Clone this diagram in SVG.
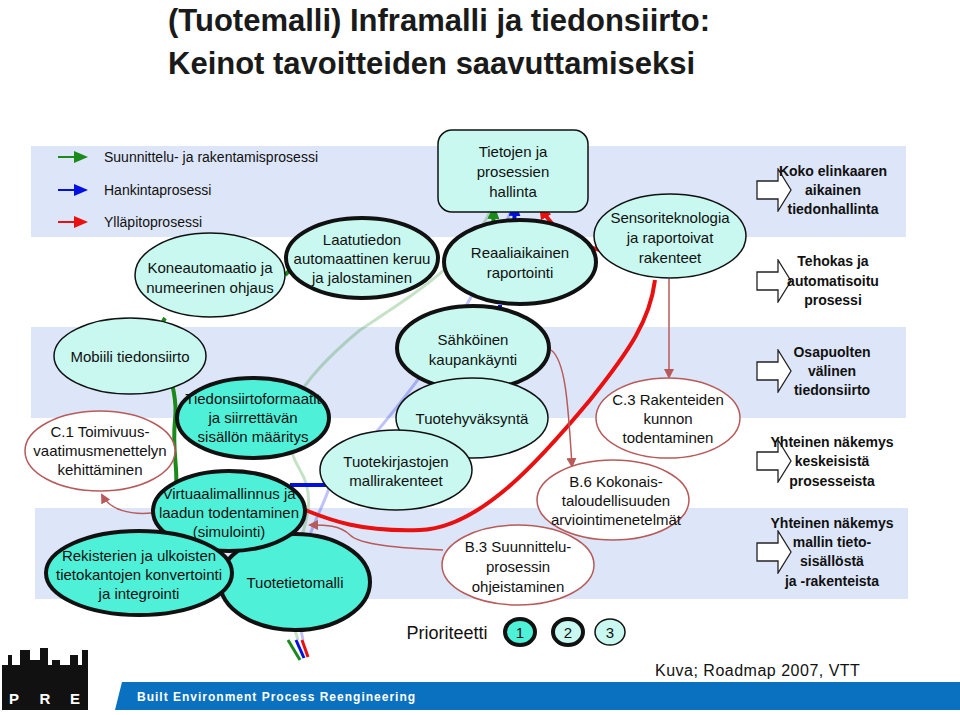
<svg xmlns="http://www.w3.org/2000/svg" width="960" height="715" viewBox="0 0 960 715">
<style>
text{font-family:"Liberation Sans",Arial,sans-serif;font-size:15px;text-anchor:middle;fill:#111}
.band{fill:#dde5f8}
.e3{fill:#c8f8ef;stroke:#111;stroke-width:1.5}
.e2{fill:#c8f8ef;stroke:#111;stroke-width:4}
.e1{fill:#4ff0d8;stroke:#111;stroke-width:4}
.ec{fill:#fff;stroke:#b85a5a;stroke-width:1.5}
.g{font-weight:bold;font-size:14px}
.rl{fill:none;stroke:#b85a5a;stroke-width:1.5}
.t{font-size:31px;font-weight:bold;text-anchor:start;fill:#1a1a1a}
</style>
<defs>
<marker id="mr" markerWidth="10" markerHeight="10" refX="8" refY="5" orient="auto" markerUnits="userSpaceOnUse"><path d="M0,0L10,5L0,10z" fill="#b85a5a"/></marker>
<marker id="mg" markerWidth="14" markerHeight="12" refX="12" refY="6" orient="auto" markerUnits="userSpaceOnUse"><path d="M0,0L14,6L0,12z" fill="#1a8a1a"/></marker>
<marker id="mb" markerWidth="14" markerHeight="12" refX="12" refY="6" orient="auto" markerUnits="userSpaceOnUse"><path d="M0,0L14,6L0,12z" fill="#0010e0"/></marker>
<marker id="mred" markerWidth="14" markerHeight="12" refX="12" refY="6" orient="auto" markerUnits="userSpaceOnUse"><path d="M0,0L14,6L0,12z" fill="#e81010"/></marker>
<symbol id="blk" viewBox="0 0 36 44"><path d="M1,13H22V1L35,22L22,43V31H1z" fill="#fff" stroke="#222" stroke-width="1.3"/></symbol>
</defs>
<rect width="960" height="715" fill="#fff"/>
<text x="168" y="31" class="t">(Tuotemalli) Inframalli ja tiedonsiirto:</text>
<text x="168" y="74" class="t">Keinot tavoitteiden saavuttamiseksi</text>
<rect class="band" x="31" y="146" width="435" height="91"/>
<rect class="band" x="440" y="146" width="466" height="91"/>
<rect class="band" x="31" y="327" width="875" height="91"/>
<rect class="band" x="35" y="508" width="873" height="91"/>
<g id="legend">
<line x1="58" y1="157" x2="86" y2="157" stroke="#1a8a1a" stroke-width="2" marker-end="url(#mg)"/>
<line x1="58" y1="190" x2="86" y2="190" stroke="#0010e0" stroke-width="2" marker-end="url(#mb)"/>
<line x1="58" y1="222" x2="86" y2="222" stroke="#e81010" stroke-width="2" marker-end="url(#mred)"/>
<text x="104" y="162" style="text-anchor:start;font-size:14px">Suunnittelu- ja rakentamisprosessi</text>
<text x="104" y="195" style="text-anchor:start;font-size:14px">Hankintaprosessi</text>
<text x="104" y="227" style="text-anchor:start;font-size:14px">Ylläpitoprosessi</text>
</g>
<g id="connectors">
<path d="M298,640C270,560 330,520 300,470C270,420 300,380 360,330C420,290 470,260 493,205" fill="none" stroke="#1a8a1a" stroke-opacity="0.25" stroke-width="3"/>
<path d="M303,640C285,560 320,520 330,485C380,430 470,330 514,202" fill="none" stroke="#0010e0" stroke-opacity="0.25" stroke-width="3"/>
<path d="M165,318C150,340 180,380 175,420C172,450 178,470 176,485" fill="none" stroke="#1a8a1a" stroke-width="4"/>
<line x1="285" y1="275" x2="290" y2="270" stroke="#1a8a1a" stroke-width="4"/>
<line x1="290" y1="485" x2="328" y2="485" stroke="#0010e0" stroke-width="4"/>
<path d="M305,510C330,520 360,532 420,530C480,528 540,460 590,400C630,350 650,320 655,280" fill="none" stroke="#e81010" stroke-width="4"/>
<path d="M600,250C580,245 560,240 540,207" fill="none" stroke="#e81010" stroke-width="4" marker-end="url(#mred)"/>
<path d="M493,228L494,207" stroke="#1a8a1a" stroke-width="4" marker-end="url(#mg)"/>
<path d="M514,228L515,204" stroke="#0010e0" stroke-width="4" marker-end="url(#mb)"/>
<line x1="500" y1="305" x2="500" y2="310" stroke="#0010e0" stroke-width="4"/>
<line x1="288" y1="640" x2="300" y2="660" stroke="#1a8a1a" stroke-width="3"/>
<line x1="296" y1="640" x2="304" y2="658" stroke="#0010e0" stroke-width="3"/>
<line x1="302" y1="640" x2="308" y2="657" stroke="#e81010" stroke-width="3"/>
<path class="rl" d="M152,513C130,515 110,510 102,495" marker-end="url(#mr)"/>
<path class="rl" d="M443,550C400,548 360,545 350,535C340,525 325,525 310,525" marker-end="url(#mr)"/>
<path class="rl" d="M551,350C565,360 568,400 572,466" marker-end="url(#mr)"/>
<line class="rl" x1="669" y1="279" x2="669" y2="377" marker-end="url(#mr)"/>
</g>
<g id="n-tietojen"><rect x="438" y="130" width="150" height="82" rx="14" fill="#c8f8ef" stroke="#111" stroke-width="1.5"/><text x="513" y="157">Tietojen ja</text><text x="513" y="177">prosessien</text><text x="513" y="197">hallinta</text></g>
<g id="n-kone"><ellipse class="e3" cx="210" cy="275" rx="75" ry="42"/><text x="210" y="273">Koneautomaatio ja</text><text x="210" y="293">numeerinen ohjaus</text></g>
<g id="n-laatu"><ellipse class="e2" cx="362" cy="258" rx="76" ry="40"/><text x="362" y="245">Laatutiedon</text><text x="362" y="264">automaattinen keruu</text><text x="362" y="283">ja jalostaminen</text></g>
<g id="n-reaali"><ellipse class="e2" cx="520" cy="262" rx="76" ry="42"/><text x="520" y="258">Reaaliaikainen</text><text x="520" y="278">raportointi</text></g>
<g id="n-sensor"><ellipse class="e3" cx="670" cy="236" rx="76" ry="42"/><text x="670" y="223">Sensoriteknologia</text><text x="670" y="243">ja raportoivat</text><text x="670" y="263">rakenteet</text></g>
<g id="n-mobiili"><ellipse class="e3" cx="130" cy="356" rx="76" ry="38"/><text x="130" y="362">Mobiili tiedonsiirto</text></g>
<g id="n-sahko"><ellipse class="e2" cx="473" cy="348" rx="76" ry="42"/><text x="473" y="345">Sähköinen</text><text x="473" y="365">kaupankäynti</text></g>
<g id="n-hyv"><ellipse class="e3" cx="472" cy="418" rx="76" ry="40"/><text x="472" y="424">Tuotehyväksyntä</text></g>
<g id="n-kirj"><ellipse class="e3" cx="396" cy="470" rx="76" ry="40"/><text x="396" y="467">Tuotekirjastojen</text><text x="396" y="486">mallirakenteet</text></g>
<g id="n-tiedonsiirto"><ellipse class="e1" cx="253" cy="418" rx="76" ry="40"/><text x="253" y="404">Tiedonsiirtoformaatit</text><text x="253" y="423">ja siirrettävän</text><text x="253" y="442">sisällön määritys</text></g>
<g id="n-c1"><ellipse class="ec" cx="100" cy="451" rx="75" ry="40"/><text x="100" y="437">C.1 Toimivuus-</text><text x="100" y="456">vaatimusmenettelyn</text><text x="100" y="475">kehittäminen</text></g>
<g id="n-tuotetieto"><ellipse class="e1" cx="295" cy="582" rx="75" ry="48"/><text x="295" y="588">Tuotetietomalli</text></g>
<g id="n-virt"><ellipse class="e1" cx="229" cy="511" rx="76" ry="40"/><text x="229" y="499">Virtuaalimallinnus ja</text><text x="229" y="518">laadun todentaminen</text><text x="229" y="537">(simulointi)</text></g>
<g id="n-rek"><ellipse class="e1" cx="139" cy="573" rx="93" ry="42"/><text x="139" y="561">Rekisterien ja ulkoisten</text><text x="139" y="580">tietokantojen konvertointi</text><text x="139" y="599">ja integrointi</text></g>
<g id="n-c3"><ellipse class="ec" cx="668" cy="418" rx="72" ry="40"/><text x="668" y="405">C.3 Rakenteiden</text><text x="668" y="424">kunnon</text><text x="668" y="443">todentaminen</text></g>
<g id="n-b6"><ellipse class="ec" cx="613" cy="500" rx="76" ry="40"/><text x="616" y="487">B.6 Kokonais-</text><text x="616" y="506">taloudellisuuden</text><text x="616" y="525">arviointimenetelmät</text></g>
<g id="n-b3"><ellipse class="ec" cx="518" cy="565" rx="76" ry="40"/><text x="518" y="552">B.3 Suunnittelu-</text><text x="518" y="572">prosessin</text><text x="518" y="592">ohjeistaminen</text></g>
<g id="goals">
<use href="#blk" x="756" y="168" width="36" height="44"/>
<use href="#blk" x="756" y="259" width="36" height="44"/>
<use href="#blk" x="756" y="349" width="36" height="44"/>
<use href="#blk" x="756" y="439" width="36" height="44"/>
<use href="#blk" x="756" y="530" width="36" height="44"/>
<text class="g" x="833" y="176">Koko elinkaaren</text><text class="g" x="833" y="195">aikainen</text><text class="g" x="833" y="214">tiedonhallinta</text>
<text class="g" x="833" y="266">Tehokas ja</text><text class="g" x="833" y="286">automatisoitu</text><text class="g" x="833" y="305">prosessi</text>
<text class="g" x="832" y="357">Osapuolten</text><text class="g" x="832" y="376">välinen</text><text class="g" x="832" y="395">tiedonsiirto</text>
<text class="g" x="832" y="447">Yhteinen näkemys</text><text class="g" x="832" y="466">keskeisistä</text><text class="g" x="832" y="486">prosesseista</text>
<text class="g" x="832" y="528">Yhteinen näkemys</text><text class="g" x="832" y="547">mallin tieto-</text><text class="g" x="832" y="566">sisällöstä</text><text class="g" x="832" y="586">ja -rakenteista</text>
</g>
<g id="priority">
<text x="447" y="639" style="font-size:18px">Prioriteetti</text>
<ellipse cx="520" cy="632" rx="15" ry="13" class="e1"/><text x="520" y="638">1</text>
<ellipse cx="568" cy="632" rx="15" ry="13" class="e2"/><text x="568" y="638">2</text>
<ellipse cx="610" cy="632" rx="15" ry="13" class="e3"/><text x="610" y="638">3</text>
</g>
<g id="footer">
<path d="M122,682H960V710H115z" fill="#0a70c0"/>
<text x="137" y="701" style="text-anchor:start;font-size:12px;font-weight:bold;fill:#fff;letter-spacing:1px">Built Environment Process Reengineering</text>
<text x="655" y="676" style="text-anchor:start;font-size:16px;letter-spacing:0.5px">Kuva; Roadmap 2007, VTT</text>
<path d="M2,665H8V655H12V665H20V650H30V660H40V648H48V665H52V660H60V665H70V655H78V665H82V650H88V710H2z" fill="#111"/>
<text x="14" y="704" style="font-size:15px;fill:#fff;font-weight:bold">P</text>
<text x="45" y="704" style="font-size:15px;fill:#fff;font-weight:bold">R</text>
<text x="75" y="704" style="font-size:15px;fill:#fff;font-weight:bold">E</text>
</g>
</svg>
